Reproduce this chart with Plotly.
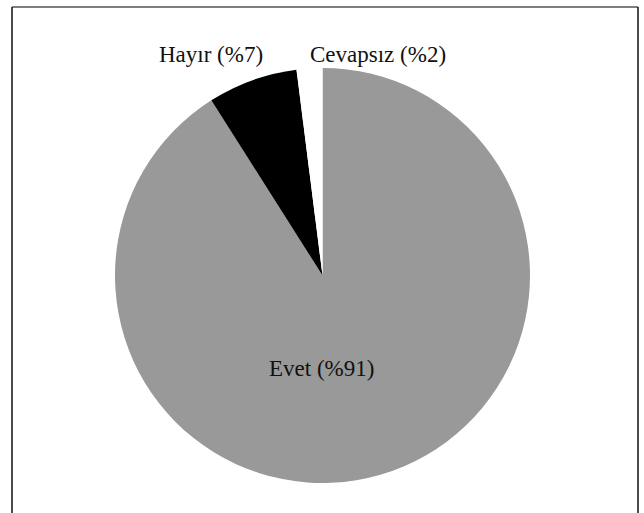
import plotly.graph_objects as go

labels = ["Evet", "Hayır", "Cevapsız"]
values = [91, 7, 2]
colors = ["#999999", "#000000", "#ffffff"]
label_texts = [f"{l} (%{v})" for l, v in zip(labels, values)]

W, H = 644, 513

fig = go.Figure()
fig.add_trace(go.Pie(
    labels=labels,
    values=values,
    sort=False,
    direction="clockwise",
    rotation=0,
    marker=dict(colors=colors, line=dict(width=0)),
    textinfo="none",
    hoverinfo="label+percent",
    showlegend=False,
    domain=dict(x=[115 / W, 530 / W], y=[1 - 483 / H, 1 - 68 / H]),
))

# label positions (pixel coords)
label_pos = [(321, 368), (211, 54), (378, 54)]
for txt, (px, py) in zip(label_texts, label_pos):
    fig.add_annotation(
        x=px / W, y=1 - py / H, xref="paper", yref="paper",
        text=txt, showarrow=False, xanchor="center", yanchor="middle",
        font=dict(family="Liberation Serif", size=23, color="#111111"),
    )

# frame
fig.add_shape(type="line", xref="paper", yref="paper",
              x0=12 / W, x1=638 / W, y0=1 - 7 / H, y1=1 - 7 / H,
              line=dict(color="#555555", width=1.5))
fig.add_shape(type="line", xref="paper", yref="paper",
              x0=12 / W, x1=12 / W, y0=1 - 7 / H, y1=-0.01,
              line=dict(color="#111111", width=1.5))
fig.add_shape(type="line", xref="paper", yref="paper",
              x0=638 / W, x1=638 / W, y0=1 - 7 / H, y1=-0.01,
              line=dict(color="#111111", width=1.5))

fig.update_layout(
    width=W, height=H,
    margin=dict(l=0, r=0, t=0, b=0),
    paper_bgcolor="white",
    plot_bgcolor="white",
)

fig.write_html(
    "out.html",
    config={"displayModeBar": False},
    post_script="document.body.style.margin='0';document.body.style.overflow='hidden';",
)
